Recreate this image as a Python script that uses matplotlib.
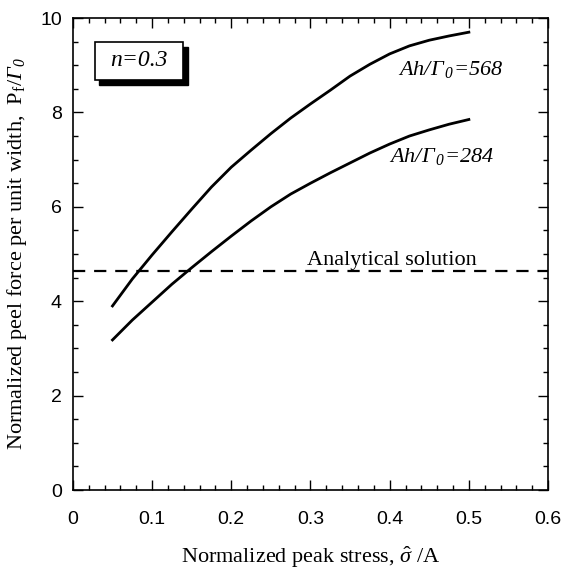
import numpy as np
import matplotlib.pyplot as plt
from matplotlib.patches import Rectangle
from matplotlib.ticker import MultipleLocator

plt.rcParams['mathtext.fontset'] = 'custom'
plt.rcParams['mathtext.rm'] = 'Liberation Serif'
plt.rcParams['mathtext.it'] = 'Liberation Serif:italic'
# bf slot used for fully italic text (digits / capital greek included)
plt.rcParams['mathtext.bf'] = 'Liberation Serif:italic'

# peak stress (normalized)
stress = [0.05, 0.075, 0.1, 0.125, 0.15, 0.175, 0.2, 0.225, 0.25, 0.275,
          0.3, 0.325, 0.35, 0.375, 0.4, 0.425, 0.45, 0.475, 0.5]
# normalized peel force
force_568 = [3.9, 4.47, 4.98, 5.47, 5.95, 6.42, 6.84, 7.2, 7.55, 7.88,
             8.18, 8.47, 8.77, 9.02, 9.24, 9.41, 9.53, 9.62, 9.70]
force_284 = [3.18, 3.6, 3.98, 4.36, 4.71, 5.05, 5.38, 5.7, 6.0, 6.27,
             6.5, 6.72, 6.93, 7.14, 7.33, 7.5, 7.63, 7.75, 7.85]
analytical = 4.63

xticks = [0, 0.1, 0.2, 0.3, 0.4, 0.5, 0.6]
xtick_labels = ['0', '0.1', '0.2', '0.3', '0.4', '0.5', '0.6']

serif = 'Liberation Serif'

fig = plt.figure(figsize=(5.65, 5.74), dpi=100)
ax = fig.add_axes([0.129, 0.1463, 0.841, 0.8223])

ax.plot(stress, force_568, color='black', lw=2)
ax.plot(stress, force_284, color='black', lw=2)
ax.axhline(analytical, color='black', lw=1.6, ls=(0, (5.5, 4)))

ax.set_xlim(0, 0.6)
ax.set_ylim(0, 10)
ax.set_xticks(xticks, xtick_labels)
ax.xaxis.set_minor_locator(MultipleLocator(0.02))
ax.yaxis.set_major_locator(MultipleLocator(2))
ax.yaxis.set_minor_locator(MultipleLocator(0.5))
ax.tick_params(which='both', direction='in', top=True, right=True, width=1)
ax.tick_params(which='major', length=7)
ax.tick_params(which='minor', length=3.5)
ax.tick_params(axis='x', which='major', pad=15)
ax.tick_params(axis='y', which='major', pad=8)
for lab in ax.get_xticklabels() + ax.get_yticklabels():
    lab.set_fontfamily('Liberation Sans')
    lab.set_fontsize(14)
for s in ax.spines.values():
    s.set_linewidth(1.2)

ax.set_xlabel(r'Normalized peak stress, $\hat{\sigma}$ /A', fontfamily=serif,
              fontsize=16, labelpad=12)
ax.set_ylabel(r'Normalized peel force per unit width,  P$_\mathrm{f}$/$\mathbf{\Gamma}_{\mathbf{0}}$',
              fontfamily=serif, fontsize=16, labelpad=8)

ax.text(0.403, 4.77, 'Analytical solution', fontfamily=serif, fontsize=16,
        ha='center', va='baseline')
ax.text(0.477, 8.79, r'$\mathbf{Ah/\Gamma_{\,0}}$=568', fontfamily=serif,
        style='italic', fontsize=16, ha='center', va='baseline')
ax.text(0.465, 6.95, r'$\mathbf{Ah/\Gamma_{\,0}}$=284', fontfamily=serif,
        style='italic', fontsize=16, ha='center', va='baseline')

# n=0.3 box with shadow
ax.add_patch(Rectangle((0.056, 0.859), 0.186, 0.08, transform=ax.transAxes,
                       facecolor='black', edgecolor='black', zorder=5, clip_on=False))
ax.add_patch(Rectangle((0.046, 0.869), 0.186, 0.08, transform=ax.transAxes,
                       facecolor='white', edgecolor='black', lw=1.2, zorder=6, clip_on=False))
ax.text(0.139, 0.909, 'n=0.3', transform=ax.transAxes, fontfamily=serif,
        style='italic', fontsize=17, ha='center', va='center', zorder=7)

fig.savefig('out.png', dpi=100)
